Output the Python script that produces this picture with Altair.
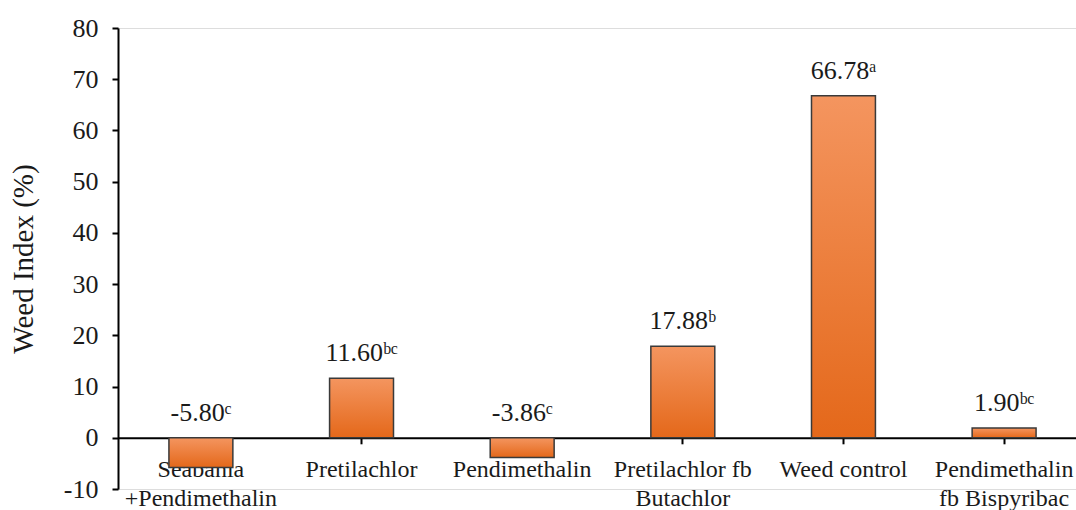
import altair as alt
import pandas as pd

categories = ["Seabania|+Pendimethalin", "Pretilachlor", "Pendimethalin",
              "Pretilachlor fb|Butachlor", "Weed control", "Pendimethalin|fb Bispyribac"]
values = [-5.80, 11.60, -3.86, 17.88, 66.78, 1.90]
letters = ["c", "bc", "c", "b", "a", "bc"]

sup = {"a": "\u1d43", "b": "\u1d47", "c": "\u1d9c"}
labels = [f"{v:.2f}" + "".join(sup[ch] for ch in l) for v, l in zip(values, letters)]

df = pd.DataFrame({"cat": categories, "value": values, "label": labels})

FONT = "Liberation Serif"

x_enc = alt.X(
    "cat:N", sort=categories, title=None,
    scale=alt.Scale(range=[0, 969], paddingInner=0.602, paddingOuter=0.317),
    axis=alt.Axis(
        labelExpr="split(datum.label, '|')", labelAngle=0, labelFont=FONT,
        labelFontSize=24, labelColor="#1a1a1a", labelPadding=14, labelLineHeight=29,
        labelBaseline="top", offset=-51.2, domainColor="black", domainWidth=2,
        tickColor="black", tickSize=6, tickWidth=2, grid=False,
    ),
)

y_enc = alt.Y(
    "value:Q", title="Weed Index (%)",
    scale=alt.Scale(domain=[-10, 80], nice=False),
    axis=alt.Axis(
        values=list(range(-10, 81, 10)), labelExpr="'' + datum.value",
        labelFont=FONT, labelFontSize=26,
        labelColor="#1a1a1a", labelPadding=14, titleFont=FONT, titleFontSize=29,
        titleFontWeight="normal", titleColor="#1a1a1a", titlePadding=25,
        domainColor="black", domainWidth=2, tickColor="black", tickSize=6,
        tickWidth=2, grid=False,
    ),
)

grad = alt.Gradient(
    gradient="linear",
    stops=[alt.GradientStop(color="#F4955F", offset=0),
           alt.GradientStop(color="#E4681A", offset=1)],
    x1=0, x2=0, y1=0, y2=1,
)

bars = alt.Chart(df).mark_bar(color=grad, stroke="#3a3a3a", strokeWidth=1.5).encode(
    x=x_enc, y=y_enc, y2=alt.datum(0)
)

text = alt.Chart(df).transform_calculate(
    ypos="max(datum.value, 0)"
).mark_text(font=FONT, fontSize=26, color="#1a1a1a", baseline="alphabetic", dy=-17).encode(
    x=alt.X("cat:N", sort=categories),
    y=alt.Y("ypos:Q"),
    text="label:N",
)

chart = alt.layer(bars, text).properties(
    width=958, height=461,
    autosize=alt.AutoSizeParams(type="none"),
    padding={"left": 118, "top": 28, "right": 0, "bottom": 21},
).configure_view(stroke=None).configure(background="white")

chart.save("out.html", embed_options={"renderer": "svg", "actions": False})
